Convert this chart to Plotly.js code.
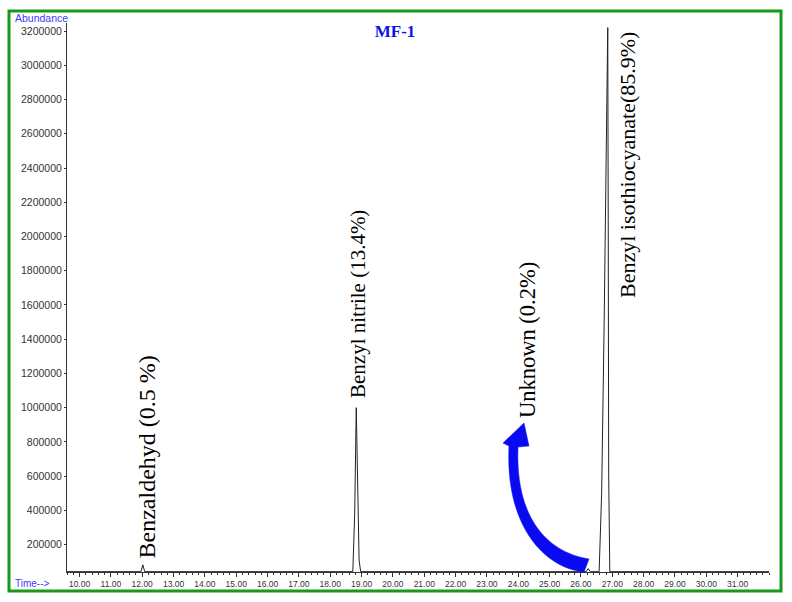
<!DOCTYPE html>
<html>
<head>
<meta charset="utf-8">
<script src="https://cdn.plot.ly/plotly-3.0.1.min.js"></script>
<style>html,body{margin:0;padding:0;background:#fff;}#chart{width:792px;height:602px;}</style>
</head>
<body>
<div id="chart"></div>
<script>
// Retention time (min) and abundance
const retentionTime = [9.6, 11.96, 12.02, 12.08, 18.72, 18.78, 18.83, 18.87, 18.92, 18.97, 26.17, 26.23, 26.3, 26.58, 26.66, 26.74, 26.81, 26.855, 26.87, 26.885, 26.92, 32.0];
const abundance     = [42000, 42000, 82000, 42000, 42000, 380000, 1000000, 560000, 110000, 42000, 42000, 60000, 42000, 42000, 500000, 1500000, 2800000, 3220000, 2100000, 600000, 42000, 42000];

const peakLabels = ["Benzaldehyd (0.5 %)", "Benzyl nitrile (13.4%)", "Unknown (0.2%)", "Benzyl isothiocyanate(85.9%)"];
const xTickVals = [10,11,12,13,14,15,16,17,18,19,20,21,22,23,24,25,26,27,28,29,30,31];
const yTickVals = [200000,400000,600000,800000,1000000,1200000,1400000,1600000,1800000,2000000,2200000,2400000,2600000,2800000,3000000,3200000];
const chartTitle = "MF-1";

// pixel -> paper helpers for decorations
const L = 67, R = 769, T = 23, B = 572;
function P(px, py){ return ((px-L)/(R-L)).toFixed(4) + ',' + ((B-py)/(B-T)).toFixed(4); }
function PX(px){ return (px-L)/(R-L); }
function PY(py){ return (B-py)/(B-T); }

const arrowPath = 'M' + P(584,572) +
  ' C' + P(545,568) + ' ' + P(505,527) + ' ' + P(509,446) +
  ' L' + P(503,443) + ' L' + P(524,423) + ' L' + P(529,446) + ' L' + P(518,447) +
  ' C' + P(515,515) + ' ' + P(545,552) + ' ' + P(589,559) + ' Z';

const serif = 'Liberation Serif, Times New Roman, serif';
const sans = 'Liberation Sans, Arial, sans-serif';

const trace = {
  x: retentionTime, y: abundance, type: 'scatter', mode: 'lines',
  line: {color: '#222', width: 1}, hoverinfo: 'skip'
};

const labelSpec = [
  {x: PX(146), y: PY(561), size: 24},
  {x: PX(358), y: PY(400), size: 21},
  {x: PX(527), y: PY(420), size: 22.5},
  {x: PX(627), y: PY(300), size: 22}
];

const annotations = peakLabels.map((t, i) => ({
  text: t, xref: 'paper', yref: 'paper', x: labelSpec[i].x, y: labelSpec[i].y,
  xanchor: 'center', yanchor: 'bottom', textangle: -90, showarrow: false,
  font: {family: serif, size: labelSpec[i].size, color: '#000'}
}));
annotations.push({text: 'Abundance', xref: 'paper', yref: 'paper', x: PX(13), y: PY(18),
  xanchor: 'left', yanchor: 'middle', showarrow: false,
  font: {family: sans, size: 10.5, color: '#3b3bff'}});
annotations.push({text: 'Time-->', xref: 'paper', yref: 'paper', x: PX(13), y: PY(583),
  xanchor: 'left', yanchor: 'middle', showarrow: false,
  font: {family: sans, size: 10, color: '#3b3bff'}});

const layout = {
  width: 792, height: 602,
  margin: {l: L, r: 792-R, t: T, b: 602-B},
  paper_bgcolor: '#fff', plot_bgcolor: '#fff',
  showlegend: false,
  title: {text: '<b>' + chartTitle + '</b>', xref: 'container', yref: 'container',
    x: 395/792, y: 1 - 31/602, xanchor: 'center', yanchor: 'middle',
    font: {family: serif, size: 17, color: '#1010e6'}},
  xaxis: {
    range: [9.6, 32.0], showgrid: false, zeroline: false,
    showline: true, linecolor: '#333', linewidth: 1,
    ticks: 'outside', ticklen: 4, tickcolor: '#333',
    tickmode: 'array', tickvals: xTickVals, tickformat: '.2f',
    tickfont: {family: sans, size: 8.5, color: '#333'},
    minor: {ticks: 'outside', ticklen: 2, tickcolor: '#333', tick0: 10, dtick: 0.2, showgrid: false}
  },
  yaxis: {
    range: [40000, 3247000], showgrid: false, zeroline: false,
    showline: true, linecolor: '#333', linewidth: 1,
    ticks: 'outside', ticklen: 2, tickcolor: '#333',
    tickmode: 'array', tickvals: yTickVals, tickformat: 'd',
    tickfont: {family: sans, size: 10.5, color: '#333'}
  },
  shapes: [
    {type: 'rect', xref: 'paper', yref: 'paper', x0: PX(9), x1: PX(781), y0: PY(591), y1: PY(11),
     line: {color: '#179a17', width: 3}, fillcolor: 'rgba(0,0,0,0)'},
    {type: 'path', xref: 'paper', yref: 'paper', path: arrowPath,
     fillcolor: '#0a0af0', line: {color: '#0a0af0', width: 0.5}}
  ],
  annotations: annotations
};

Plotly.newPlot('chart', [trace], layout, {displayModeBar: false, staticPlot: true});
</script>
</body>
</html>
